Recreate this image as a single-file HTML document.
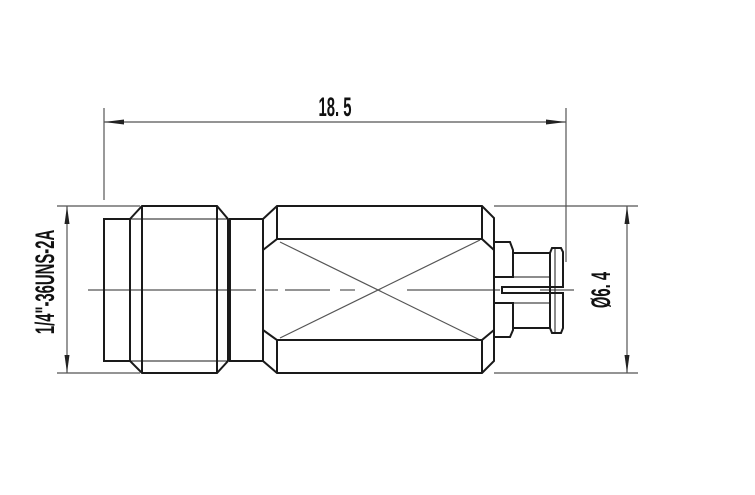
<!DOCTYPE html>
<html><head><style>body{margin:0;background:#fff}svg{display:block}</style></head>
<body>
<svg width="755" height="495" viewBox="0 0 755 495" xmlns="http://www.w3.org/2000/svg">
<g fill="none" stroke="#555" stroke-width="1.2">
 <line x1="104" y1="108" x2="104" y2="200"/>
 <line x1="566" y1="108" x2="566" y2="262"/>
 <line x1="104" y1="122" x2="566" y2="122"/>
 <line x1="57" y1="206" x2="140" y2="206"/>
 <line x1="57" y1="373" x2="140" y2="373"/>
 <line x1="67" y1="206" x2="67" y2="373"/>
 <line x1="494" y1="206" x2="638" y2="206"/>
 <line x1="494" y1="373" x2="638" y2="373"/>
 <line x1="627" y1="206" x2="627" y2="373"/>
 <line x1="88" y1="290" x2="256" y2="290"/>
 <line x1="265" y1="290" x2="278" y2="290"/>
 <line x1="285" y1="290" x2="330" y2="290"/>
 <line x1="340" y1="290" x2="355" y2="290"/>
 <line x1="407" y1="290" x2="500" y2="290"/>
 <line x1="540" y1="290" x2="574" y2="290"/>
 <line x1="280" y1="242" x2="480" y2="340"/>
 <line x1="280" y1="338" x2="480" y2="240"/>
</g>
<g fill="#222">
 <polygon points="104,122 124,119.5 124,124.5"/>
 <polygon points="566,122 546,119.5 546,124.5"/>
 <polygon points="67,206 64.5,224 69.5,224"/>
 <polygon points="67,373 64.5,355 69.5,355"/>
 <polygon points="627,206 624.5,224 629.5,224"/>
 <polygon points="627,373 624.5,355 629.5,355"/>
</g>
<g fill="none" stroke="#1a1a1a" stroke-width="2" stroke-linejoin="miter">
 <rect x="104" y="219" width="26" height="142"/>
 <polygon points="130,219 142,206 217,206 228,219 228,361 217,373 142,373 130,361"/>
 <line x1="142" y1="206" x2="142" y2="373"/>
 <line x1="217" y1="206" x2="217" y2="373"/>
 <line x1="130" y1="219" x2="230" y2="219" stroke-width="1"/>
 <line x1="130" y1="361" x2="230" y2="361" stroke-width="1"/>
 <rect x="230" y="219" width="33" height="142"/>
 <polygon points="263,219 277,206 482,206 494,218 494,361 482,373 277,373 263,361"/>
 <polyline points="263,250 277,239 277,206"/>
 <polyline points="263,330 277,340 277,373"/>
 <line x1="277" y1="239" x2="482" y2="239"/>
 <line x1="277" y1="340" x2="482" y2="340"/>
 <polyline points="482,206 482,239 494,250"/>
 <polyline points="482,373 482,340 494,330"/>
 <polyline points="494,242 510,242 513,250 513,277 494,277"/>
 <polyline points="494,337 510,337 513,330 513,303 494,303"/>
 <polyline points="513,253 550,253 552,248 561,248 563,252 563,287 502,287 502,293 563,293 563,328 561,333 552,333 550,328 513,328"/>
 <line x1="550" y1="253" x2="550" y2="328"/>
 <line x1="555" y1="249" x2="555" y2="332" stroke-width="1"/>
 <line x1="513" y1="277" x2="550" y2="277" stroke-width="1"/>
 <line x1="513" y1="303" x2="550" y2="303" stroke-width="1"/>
</g>
<g font-family="Liberation Sans, sans-serif" font-weight="bold" fill="#111">
 <text x="0" y="0" font-size="27" transform="translate(335,116) scale(0.55,1)" text-anchor="middle">18. 5</text>
 <text x="0" y="0" font-size="27" transform="translate(54,282) rotate(-90) scale(0.55,1)" text-anchor="middle">1/4"-36UNS-2A</text>
 <text x="0" y="0" font-size="27" transform="translate(610,290) rotate(-90) scale(0.55,1)" text-anchor="middle">Ø6. 4</text>
</g>
</svg>
</body></html>
